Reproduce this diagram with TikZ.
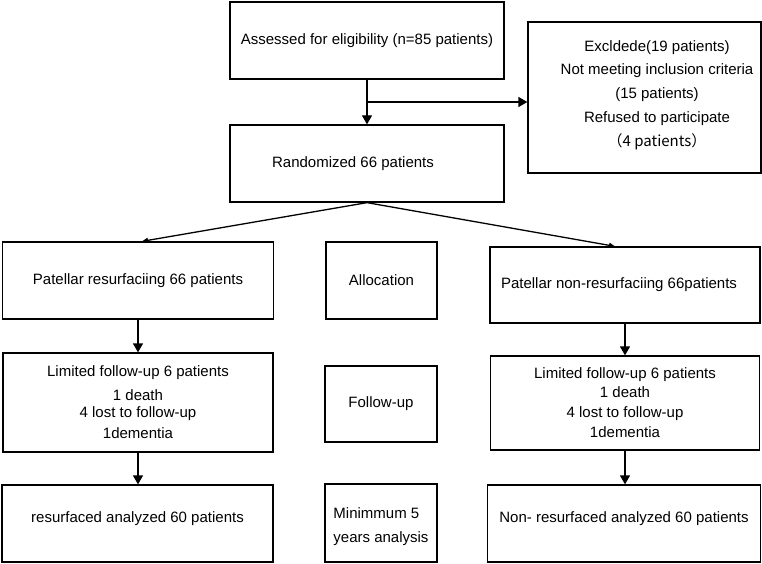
\documentclass[tikz,border=0pt]{standalone}
\usepackage{fontspec}
\setmainfont{Liberation Sans}
\newfontfamily\cjk{Noto Sans CJK SC}
\usepackage{tikz}
\usetikzlibrary{arrows.meta}

\begin{document}
\begin{tikzpicture}[x=1pt,y=-1pt,
  box/.style={draw,line width=1.3pt,inner sep=0pt,font=\fontsize{15}{20}\selectfont,align=center},
  arr/.style={line width=1.3pt,-{Triangle[length=9pt,width=10pt]}},
  thin arr/.style={line width=1.3pt,-{Triangle[length=6pt,width=5pt]}}]

  \useasboundingbox (0,0) rectangle (762,564);

  \node[box, minimum width=274pt, minimum height=77pt]	(assess) at (367,40.5) {Assessed for eligibility (n=85 patients)};
  \node[box, minimum width=233pt, minimum height=151pt]	(excl) at (644.5,97.5) {};
  \node[font=\fontsize{15}{23.75}\selectfont, align=center]	(excltext) at (657,95)
    {Excldede(19 patients)\\ Not meeting inclusion criteria\\ (15 patients)\\ Refused to participate\\ \cjk{（}4 patients\cjk{）}};
  \node[box, minimum width=274pt, minimum height=77pt]	(random) at (367,163.5) {Randomized 66 patients\hspace*{28pt}};

  % groups
  \node[box, minimum width=271pt, minimum height=77pt]	(resurf) at (138,280.5) {Patellar resurfaciing 66 patients};
  \node[box, minimum width=111pt, minimum height=77pt]	(alloc) at (381.5,280.5) {Allocation};
  \node[box, minimum width=270pt, minimum height=76pt]	(nonres) at (625,285) {Patellar non-resurfaciing 66patients\hspace*{12pt}};

  \node[box, minimum width=270pt, minimum height=99pt]	(limL) at (138,402.5)
    {Limited follow-up 6 patients\\[4pt] 1 death\\[-3pt] 4 lost to follow-up\\[1pt] 1dementia};
  \node[box, minimum width=112pt, minimum height=76pt]	(follow) at (381,404) {Follow-up};
  \node[box, minimum width=269pt, minimum height=94pt]	(limR) at (625,403)
    {Limited follow-up 6 patients\\[-1pt] 1 death\\ 4 lost to follow-up\\ 1dementia};

  \node[box, minimum width=271pt, minimum height=77pt, text depth=13pt]	(analL) at (137.5,523.5) {resurfaced analyzed 60 patients};
  \node[box, minimum width=112pt, minimum height=78pt, align=left, font=\fontsize{15}{24}\selectfont]	(minim) at (381,523) {\rule{0pt}{19pt}Minimmum 5\\ years analysis};
  \node[box, minimum width=273pt, minimum height=77pt, text depth=13pt]	(analR) at (624,523.5) {Non- resurfaced analyzed 60 patients};

  \coordinate (split) at (367,102);

  \draw[arr] (assess) -- (random);
  \draw[arr] (split) -- (split -| excl.west);
  \draw[thin arr] (random.south) -- ([xshift=4pt]resurf.north);
  \draw[thin arr] (random.south) -- ([xshift=-10pt]nonres.north);
  \draw[arr] (resurf.south) -- (resurf.south |- limL.north);
  \draw[arr] (nonres.south) -- (nonres.south |- limR.north);
  \draw[arr] (limL.south) -- (limL.south |- analL.north);
  \draw[arr] (limR.south) -- (limR.south |- analR.north);
\end{tikzpicture}
\end{document}
